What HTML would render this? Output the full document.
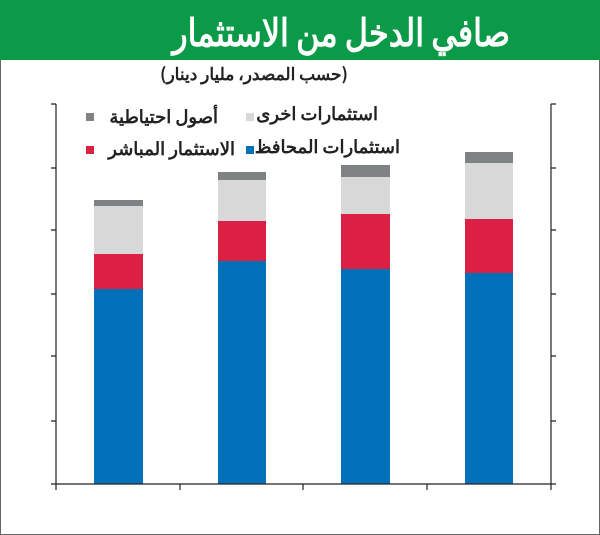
<!DOCTYPE html>
<html><head><meta charset="utf-8"><style>
body{margin:0;width:600px;height:535px;overflow:hidden;background:#fff;font-family:"Liberation Sans","Noto Sans CJK SC",sans-serif}
.f{position:absolute;left:0;top:0;width:598px;height:533px;border:1px solid #666}
.h{position:absolute;left:0;top:0;width:600px;height:60px;background:#0a9a48}
.t{position:absolute;left:0;width:510px;top:6px;text-align:right;color:#fff;font-weight:bold;font-size:38px;line-height:48px;direction:rtl;font-family:"Noto Sans CJK SC","WenQuanYi Zen Hei",sans-serif;transform:scaleX(0.84);transform-origin:510px 0}
.s{position:absolute;left:154px;width:200px;top:60px;text-align:center;font-size:17px;font-weight:bold;direction:rtl;color:#222;font-family:"Noto Sans CJK SC",sans-serif;white-space:nowrap}
.l{position:absolute;font-size:18px;font-weight:bold;color:#222;direction:rtl;white-space:nowrap;font-family:"Noto Sans CJK SC",sans-serif;line-height:24px}
.q{position:absolute;width:8px;height:8px}
</style></head><body>
<div class="f"></div>
<div class="h"></div>
<div class="t">صافي الدخل من الاستثمار</div>
<div class="s">(حسب المصدر، مليار دينار)</div>
<svg width="600" height="535" style="position:absolute;left:0;top:0">
<g fill="#0070b8"><rect x="94" y="289" width="49" height="195"/><rect x="218" y="261" width="48" height="223"/><rect x="341" y="269" width="49" height="215"/><rect x="465" y="273" width="48" height="211"/></g>
<g fill="#dc1f45"><rect x="94" y="254" width="49" height="35"/><rect x="218" y="221" width="48" height="40"/><rect x="341" y="214" width="49" height="55"/><rect x="465" y="219" width="48" height="54"/></g>
<g fill="#d8d8d8"><rect x="94" y="206" width="49" height="48"/><rect x="218" y="180" width="48" height="41"/><rect x="341" y="177" width="49" height="37"/><rect x="465" y="163" width="48" height="56"/></g>
<g fill="#7f8282"><rect x="94" y="200" width="49" height="6"/><rect x="218" y="172" width="48" height="8"/><rect x="341" y="165" width="49" height="12"/><rect x="465" y="152" width="48" height="11"/></g>
<g stroke="#222" stroke-width="1.2" fill="none">
<path d="M56 104V484M551 104V484M51 484H556"/>
<path d="M51 104H56M51 168H56M51 230H56M51 294H56M51 356H56M51 421H56"/>
<path d="M551 104H556M551 168H556M551 230H556M551 294H556M551 356H556M551 421H556"/>
<path d="M56 484V490M180 484V490M303 484V490M427 484V490M551 484V490"/>
</g>
</svg>
<div class="q" style="left:86px;top:113px;background:#7f8282"></div>
<div class="l" style="right:382px;top:104px">أصول احتياطية</div>
<div class="q" style="left:246px;top:113px;background:#d8d8d8"></div>
<div class="l" style="right:222px;top:101px">استثمارات اخرى</div>
<div class="q" style="left:86px;top:146px;background:#dc1f45"></div>
<div class="l" style="right:365px;top:136px">الاستثمار المباشر</div>
<div class="q" style="left:246px;top:146px;background:#0070b8"></div>
<div class="l" style="right:200px;top:134px">استثمارات المحافظ</div>
</body></html>
